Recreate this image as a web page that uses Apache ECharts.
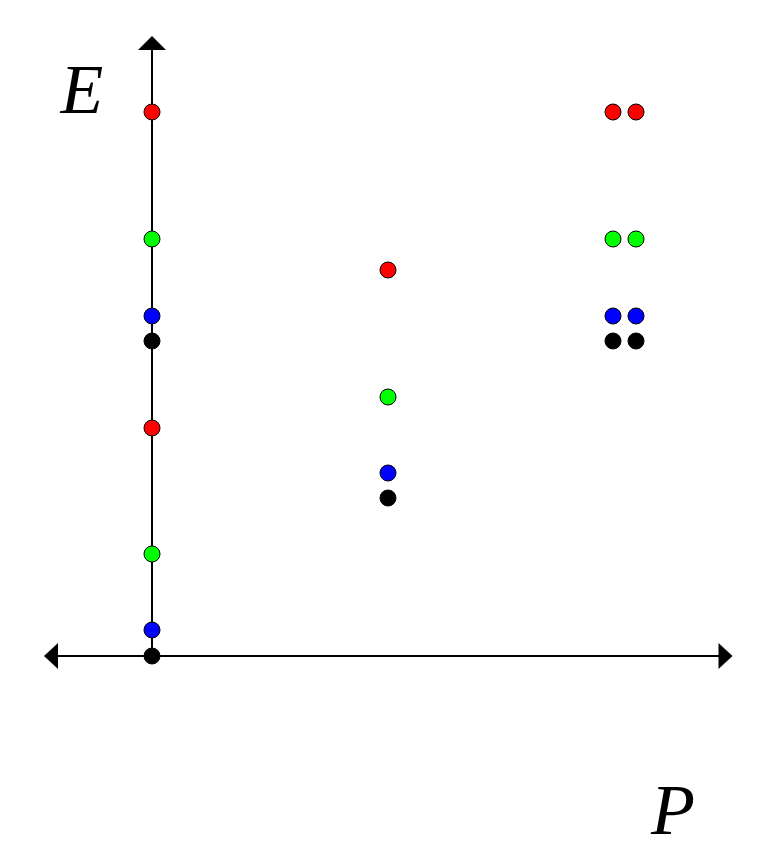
<!DOCTYPE html>
<html>
<head>
<meta charset="utf-8">
<script src="https://cdn.jsdelivr.net/npm/echarts@6/dist/echarts.min.js"></script>
<style>html,body{margin:0;padding:0;background:#fff}#c{width:778px;height:864px}</style>
</head>
<body>
<div id="c"></div>
<script>
// Points by colour (P, E) in chart units
const redP   = [0, 0, 2.36, 4.61, 4.84];
const redE   = [5.44, 2.28, 3.86, 5.44, 5.44];
const greenP = [0, 0, 2.36, 4.61, 4.84];
const greenE = [4.17, 1.02, 2.59, 4.17, 4.17];
const blueP  = [0, 0, 2.36, 4.61, 4.84];
const blueE  = [3.40, 0.26, 1.83, 3.40, 3.40];
const blackP = [0, 0, 2.36, 4.61, 4.84];
const blackE = [3.15, 0, 1.58, 3.15, 3.15];
const axisNames = ['P', 'E'];

const pairs = (xs, ys) => xs.map((x, i) => [x, ys[i]]);
const chart = echarts.init(document.getElementById('c'), null, {renderer: 'canvas'});
const mk = (name, color, xs, ys) => ({
  name, type: 'scatter', symbol: 'circle', symbolSize: 16,
  itemStyle: {color, borderColor: '#000', borderWidth: 1, opacity: 1},
  data: pairs(xs, ys), z: 5
});
const hidden = {axisTick: {show: false}, axisLabel: {show: false}, splitLine: {show: false}};
chart.setOption({
  animation: false,
  backgroundColor: '#fff',
  grid: {left: 51, right: 52.5, top: 43, bottom: 208},
  xAxis: Object.assign({
    type: 'value', min: -1.01, max: 5.735,
    axisLine: {show: true, onZero: true, lineStyle: {color: '#000', width: 2},
      symbol: ['triangle', 'triangle'], symbolSize: [26, 14]}
  }, hidden),
  yAxis: Object.assign({
    type: 'value', min: 0, max: 6.13,
    axisLine: {show: true, onZero: true, lineStyle: {color: '#000', width: 2},
      symbol: ['none', 'triangle'], symbolSize: [28, 14]}
  }, hidden),
  graphic: [
    {type: 'text', x: 82, y: 95, style: {text: axisNames[1], font: 'italic 70px "Liberation Serif"', fill: '#000', align: 'center', verticalAlign: 'middle'}},
    {type: 'text', x: 673, y: 815, style: {text: axisNames[0], font: 'italic 72px "Liberation Serif"', fill: '#000', align: 'center', verticalAlign: 'middle'}}
  ],
  series: [
    mk('black', '#000000', blackP, blackE),
    mk('blue', '#0000ff', blueP, blueE),
    mk('green', '#00ff00', greenP, greenE),
    mk('red', '#ff0000', redP, redE)
  ]
});
</script>
</body>
</html>
